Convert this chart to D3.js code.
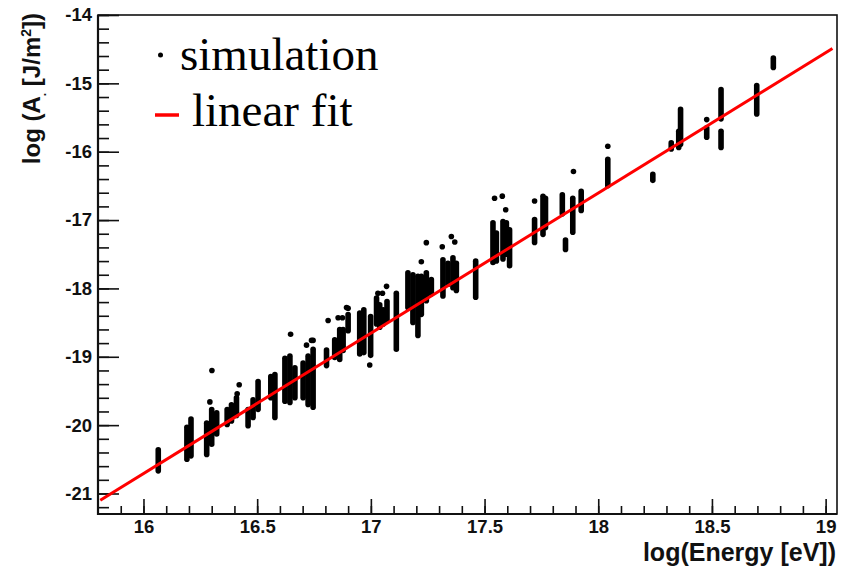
<!DOCTYPE html>
<html>
<head>
<meta charset="utf-8">
<script src="https://d3js.org/d3.v7.min.js"></script>
<style>
body { margin: 0; background: #fff; }
text { font-family: "Liberation Sans", Arial, Helvetica, sans-serif; font-weight: bold; }
</style>
</head>
<body>
<svg width="846" height="569"></svg>
<script>
// simulated events come in vertical columns: energy, top and bottom of each column
const colEnergy = [16.065, 16.191, 16.209, 16.278, 16.300, 16.322, 16.368, 16.387, 16.409, 16.460,
    16.482, 16.504, 16.560, 16.578, 16.622, 16.644, 16.666, 16.702, 16.724, 16.746,
    16.805, 16.841, 16.863, 16.878, 16.900, 16.951, 16.969, 16.999, 17.025, 17.039,
    17.054, 17.071, 17.112, 17.163, 17.185, 17.207, 17.222, 17.244, 17.266, 17.317,
    17.339, 17.361, 17.376, 17.461, 17.537, 17.552, 17.581, 17.596, 17.610, 17.720,
    17.757, 17.768, 17.842, 17.856, 17.888, 17.925, 18.042, 18.240, 18.321, 18.354,
    18.362, 18.477, 18.540, 18.540, 18.697, 18.770];
const colHigh = [-20.32, -19.99, -19.87, -19.93, -19.73, -19.78, -19.73, -19.66, -19.56, -19.73,
    -19.59, -19.32, -19.25, -19.22, -18.98, -18.95, -19.12, -19.05, -18.95, -18.85,
    -18.86, -18.71, -18.56, -18.56, -18.34, -18.32, -18.27, -18.37, -18.10, -18.20,
    -18.27, -18.15, -18.03, -17.73, -17.76, -17.78, -17.78, -17.73, -17.83, -17.54,
    -17.59, -17.51, -17.59, -17.56, -17.00, -17.15, -16.98, -17.00, -17.10, -16.95,
    -16.61, -16.64, -16.59, -17.25, -16.64, -16.54, -16.07, -16.29, -15.83, -15.66,
    -15.34, -15.61, -15.05, -15.66, -14.99, -14.59];
const colLow = [-20.71, -20.54, -20.49, -20.47, -20.32, -20.17, -20.03, -19.98, -19.90, -20.05,
    -19.93, -19.81, -19.64, -19.93, -19.69, -19.71, -19.64, -19.64, -19.74, -19.78,
    -19.17, -19.05, -19.08, -18.95, -18.66, -19.00, -18.98, -19.02, -18.56, -18.61,
    -18.56, -18.51, -18.93, -18.32, -18.54, -18.73, -18.42, -18.22, -18.12, -18.15,
    -17.98, -18.03, -18.07, -18.17, -17.66, -17.64, -17.61, -17.54, -17.71, -17.37,
    -17.25, -17.15, -16.95, -17.47, -17.22, -16.90, -16.54, -16.46, -16.00, -15.98,
    -15.93, -15.83, -15.56, -15.98, -15.49, -14.81];

// single events away from the columns
const outEnergy = [16.301, 16.292, 16.421, 16.412, 16.647, 16.717, 16.746, 16.739, 16.812, 16.856,
    16.875, 16.900, 16.893, 16.995, 17.031, 17.051, 17.069, 17.222, 17.244, 17.314,
    17.354, 17.369, 17.544, 17.578, 17.593, 17.720, 17.891, 18.042, 18.477];
const outValue = [-19.20, -19.66, -19.41, -19.54, -18.67, -18.83, -18.76, -18.76, -18.47, -18.43,
    -18.43, -18.29, -18.28, -19.12, -18.07, -18.07, -17.97, -17.61, -17.33, -17.39,
    -17.24, -17.32, -16.68, -16.65, -16.85, -16.72, -16.29, -15.92, -15.53];

const fitSlope = 2.052;
const fitIntercept = -53.54;
const fitRange = [15.81, 19.03];

const xMajor = [16, 16.5, 17, 17.5, 18, 18.5, 19];
const yMajor = [-21, -20, -19, -18, -17, -16, -15, -14];

let svg = d3.select("svg"),
    padL = 98, padR = 837, padT = 15, padB = 514;

let x = d3.scaleLinear().domain([15.8, 19.05]).range([padL, padR]),
    y = d3.scaleLinear().domain([-21.3, -14]).range([padB, padT]);

let xMinor = d3.range(159, 191).map(d => d / 10),
    yMinor = d3.range(-106, -69).map(d => d / 5);

// minor ticks first, majors on top
svg.append("g")
    .attr("transform", `translate(0,${padB})`)
    .call(d3.axisBottom(x).tickValues(xMinor).tickSize(-8).tickFormat(""));
svg.append("g")
    .attr("transform", `translate(0,${padB})`)
    .call(d3.axisBottom(x).tickValues(xMajor).tickSize(-15).tickPadding(6).tickFormat(d => d))
    .attr("class", "xax");
svg.append("g")
    .attr("transform", `translate(${padL},0)`)
    .call(d3.axisLeft(y).tickValues(yMinor).tickSize(-11).tickFormat(""));
svg.append("g")
    .attr("transform", `translate(${padL},0)`)
    .call(d3.axisLeft(y).tickValues(yMajor).tickSize(-21).tickPadding(6).tickFormat(d => d))
    .attr("class", "yax");

svg.selectAll(".domain").remove();
svg.selectAll(".tick line").attr("stroke", "#111").attr("stroke-width", 1.6);
svg.selectAll(".xax text, .yax text")
    .attr("fill", "#111")
    .style("font-size", "18.5px")
    .style("font-family", "'Liberation Sans', Arial, sans-serif")
    .style("font-weight", "bold");

// frame
svg.append("rect")
    .attr("x", padL).attr("y", padT)
    .attr("width", padR - padL).attr("height", padB - padT)
    .attr("fill", "none").attr("stroke", "#111").attr("stroke-width", 1.6);
svg.append("path")
    .attr("d", `M${padL},${padT}V${padB}H${padR}`)
    .attr("fill", "none").attr("stroke", "#111").attr("stroke-width", 2.2);

// simulation points
let cols = colEnergy.map((e, i) => ({ e: e, hi: colHigh[i], lo: colLow[i] }));
let r = 2.8;
svg.append("g")
    .selectAll("line")
    .data(cols)
    .enter()
    .append("line")
    .attr("x1", d => x(d.e))
    .attr("x2", d => x(d.e))
    .attr("y1", d => Math.min(y(d.hi) + r, (y(d.hi) + y(d.lo)) / 2))
    .attr("y2", d => Math.max(y(d.lo) - r, (y(d.hi) + y(d.lo)) / 2))
    .attr("stroke", "#000")
    .attr("stroke-width", 2 * r)
    .attr("stroke-linecap", "round");

svg.append("g")
    .selectAll("circle")
    .data(outEnergy)
    .enter()
    .append("circle")
    .attr("cx", d => x(d))
    .attr("cy", (d, i) => y(outValue[i]))
    .attr("r", r)
    .attr("fill", "#000");

// linear fit
let fitLine = d3.line().x(d => x(d)).y(d => y(fitIntercept + fitSlope * d));
svg.append("path")
    .attr("d", fitLine(fitRange))
    .attr("fill", "none")
    .attr("stroke", "#ff0000")
    .attr("stroke-width", 3);

// axis titles
let yt = svg.append("text")
    .attr("transform", "rotate(-90)")
    .attr("x", -13)
    .attr("y", 40)
    .attr("text-anchor", "end")
    .style("font-size", "24px")
    .attr("fill", "#111");
yt.append("tspan").text("log (A");
yt.append("tspan").attr("dy", 6).style("font-size", "12px").text(".");
yt.append("tspan").attr("dy", -6).text(" [J/m");
yt.append("tspan").attr("dy", -9).style("font-size", "14px").text("2");
yt.append("tspan").attr("dy", 9).text("])");

svg.append("text")
    .attr("x", 836)
    .attr("y", 561)
    .attr("text-anchor", "end")
    .style("font-size", "25px")
    .attr("fill", "#111")
    .text("log(Energy [eV])");

// legend
svg.append("circle")
    .attr("cx", 160.5).attr("cy", 55).attr("r", 2.5).attr("fill", "#000");
svg.append("text")
    .attr("x", 180).attr("y", 70)
    .style("font-family", "'Liberation Serif', 'Times New Roman', serif")
    .style("font-weight", "normal")
    .style("font-size", "47px")
    .text("simulation");
svg.append("line")
    .attr("x1", 155).attr("x2", 179)
    .attr("y1", 115).attr("y2", 115)
    .attr("stroke", "#ff0000").attr("stroke-width", 3.5);
svg.append("text")
    .attr("x", 192).attr("y", 126)
    .style("font-family", "'Liberation Serif', 'Times New Roman', serif")
    .style("font-weight", "normal")
    .style("font-size", "47px")
    .text("linear fit");
</script>
</body>
</html>
